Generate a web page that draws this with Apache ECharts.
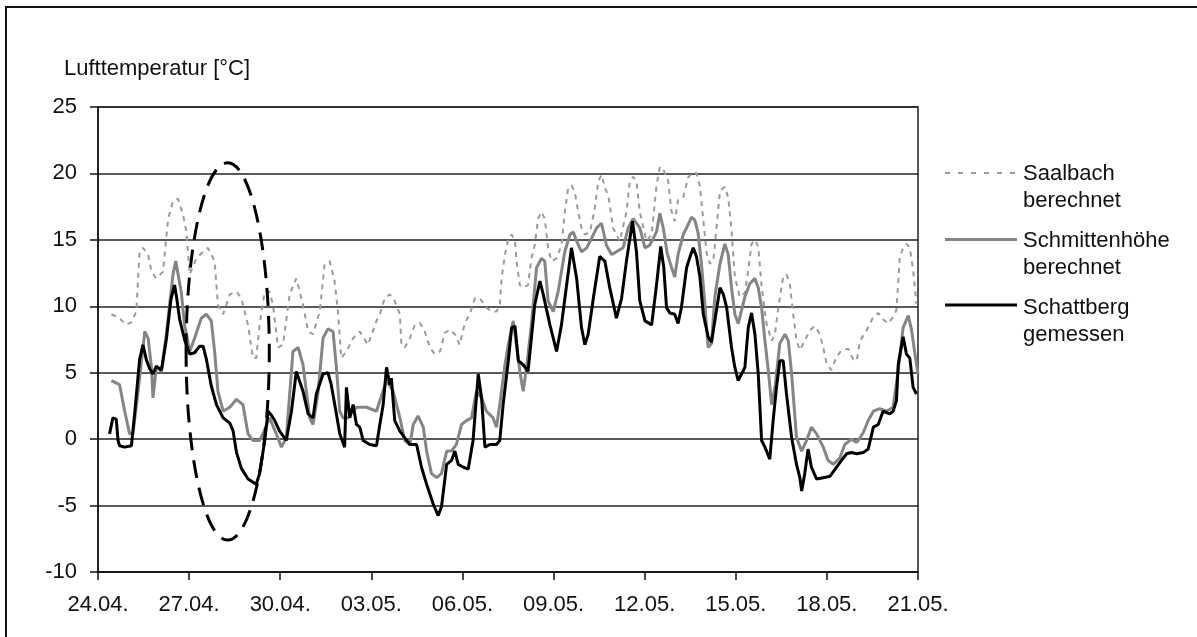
<!DOCTYPE html>
<html>
<head>
<meta charset="utf-8">
<script src="https://cdn.jsdelivr.net/npm/echarts@6/dist/echarts.min.js"></script>
<style>
  html, body { margin: 0; padding: 0; background: #fff; }
  #chart { width: 1197px; height: 637px; }
</style>
</head>
<body>
<div id="chart"></div>
<script>
// Tick labels of the date axis (one every 3 days, starting 24.04.)
const dateLabels = ['24.04.', '27.04.', '30.04.', '03.05.', '06.05.', '09.05.', '12.05.', '15.05.', '18.05.', '21.05.'];

// Air temperature [°C]; each point is [days since 24.04. 00:00, temperature]
const saalbach = [
  [0.44,9.4],[0.71,9.1],[0.93,8.6],[1.10,8.8],[1.26,9.6],[1.37,14.1],[1.48,14.4],[1.65,13.9],[1.76,12.6],[1.92,12.1],
  [2.14,12.6],[2.31,16.6],[2.47,17.9],[2.63,18.1],[2.80,16.9],[2.91,15.6],[3.02,12.4],[3.24,13.6],[3.46,14.1],[3.62,14.4],
  [3.84,13.4],[3.95,10.1],[4.12,9.4],[4.34,10.9],[4.56,11.1],[4.72,10.6],[4.94,8.6],[5.10,6.1],[5.21,6.1],[5.32,8.6],
  [5.49,11.1],[5.65,11.1],[5.76,10.1],[5.93,6.9],[6.09,7.1],[6.31,10.9],[6.53,12.1],[6.75,10.1],[6.92,8.1],[7.08,7.9],
  [7.30,9.6],[7.46,13.1],[7.63,13.4],[7.79,11.9],[7.90,9.6],[8.01,6.1],[8.18,6.6],[8.40,7.6],[8.62,8.1],[8.89,7.1],
  [9.17,8.9],[9.28,9.4],[9.44,10.6],[9.61,10.9],[9.77,10.4],[9.94,9.4],[9.99,7.1],[10.10,6.9],[10.27,7.6],[10.43,8.6],
  [10.60,8.75],[10.76,8.1],[10.93,6.9],[11.09,6.4],[11.26,6.6],[11.42,8.0],[11.59,8.25],[11.75,7.9],[11.91,7.1],[12.08,8.75],
  [12.24,9.4],[12.41,10.6],[12.57,10.6],[12.79,9.9],[12.96,9.6],[13.12,9.6],[13.23,10.1],[13.29,12.1],[13.40,13.9],[13.51,15.1],
  [13.62,15.4],[13.73,14.9],[13.78,13.4],[13.89,11.6],[14.00,11.4],[14.16,11.6],[14.27,13.6],[14.38,14.6],[14.49,16.6],[14.60,17.1],
  [14.71,16.6],[14.82,14.4],[14.93,13.4],[15.10,13.6],[15.26,14.6],[15.37,17.1],[15.48,18.9],[15.59,19.1],[15.70,18.6],[15.81,17.1],
  [15.92,15.9],[16.03,15.4],[16.20,15.6],[16.36,17.4],[16.47,19.4],[16.58,19.9],[16.69,18.9],[16.80,18.4],[16.96,15.9],[17.18,14.9],
  [17.40,17.1],[17.51,19.4],[17.62,19.75],[17.73,19.4],[17.84,17.1],[18.06,14.9],[18.23,15.4],[18.39,19.1],[18.50,20.5],[18.61,20.3],
  [18.77,19.5],[18.88,17.2],[18.99,16.4],[19.10,18.0],[19.27,18.2],[19.43,19.7],[19.60,20.1],[19.71,20.0],[19.82,19.0],[19.93,16.5],
  [20.04,14.0],[20.15,13.2],[20.26,13.4],[20.37,16.0],[20.48,18.7],[20.64,19.0],[20.75,18.2],[20.86,15.7],[20.97,12.2],[21.13,10.7],
  [21.30,11.0],[21.41,12.7],[21.52,14.7],[21.63,15.0],[21.74,14.5],[21.85,11.5],[22.01,8.7],[22.18,7.4],[22.29,7.9],[22.40,9.9],
  [22.56,12.2],[22.67,12.4],[22.78,11.7],[22.89,9.4],[23.00,7.4],[23.11,6.7],[23.27,7.4],[23.44,8.2],[23.60,8.5],[23.77,7.9],
  [23.88,6.9],[23.99,5.7],[24.15,5.2],[24.32,6.2],[24.48,6.7],[24.70,6.8],[24.87,6.0],[24.98,5.9],[25.09,7.4],[25.31,8.2],
  [25.53,9.2],[25.69,9.5],[25.85,9.0],[26.02,8.7],[26.18,9.2],[26.29,9.7],[26.40,13.7],[26.51,14.4],[26.62,14.7],[26.73,14.4],
  [26.84,12.7],[26.95,10.2]
];

const schmittenhoehe = [
  [0.44,4.4],[0.71,4.1],[0.88,2.1],[1.04,0.4],[1.15,0.4],[1.32,3.6],[1.54,8.1],[1.65,7.6],[1.76,5.4],[1.81,3.1],
  [1.92,5.4],[2.09,5.1],[2.25,7.9],[2.47,12.4],[2.56,13.4],[2.74,11.1],[2.85,8.6],[3.02,6.6],[3.18,7.6],[3.40,9.1],
  [3.57,9.4],[3.73,8.9],[3.84,6.6],[3.95,3.6],[4.12,2.1],[4.34,2.4],[4.56,3.0],[4.77,2.6],[4.94,0.4],[5.10,-0.1],
  [5.32,-0.1],[5.43,0.4],[5.65,1.6],[5.87,0.4],[6.04,-0.6],[6.20,0.1],[6.42,6.6],[6.59,6.9],[6.75,5.6],[6.97,1.6],
  [7.08,1.1],[7.24,3.4],[7.41,7.6],[7.57,8.3],[7.74,8.1],[7.85,5.4],[7.96,2.1],[8.07,1.6],[8.23,1.6],[8.51,2.4],
  [8.84,2.4],[9.17,2.1],[9.28,2.9],[9.50,4.4],[9.72,3.6],[9.94,1.6],[10.10,-0.1],[10.27,-0.4],[10.38,1.1],[10.54,1.75],
  [10.71,0.9],[10.82,-0.9],[10.98,-2.6],[11.15,-2.9],[11.31,-2.6],[11.48,-0.9],[11.64,-0.9],[11.80,-0.4],[11.97,1.1],[12.13,1.4],
  [12.30,1.6],[12.46,3.6],[12.63,3.1],[12.79,2.1],[13.01,1.6],[13.12,0.9],[13.23,2.6],[13.40,5.6],[13.51,7.1],[13.67,8.9],
  [13.78,7.1],[13.89,5.1],[14.00,3.6],[14.11,5.4],[14.27,8.6],[14.44,12.9],[14.60,13.6],[14.71,13.4],[14.82,10.4],[14.99,9.6],
  [15.15,11.1],[15.37,14.1],[15.54,15.4],[15.65,15.6],[15.76,14.9],[15.92,14.1],[16.09,14.4],[16.25,15.1],[16.42,15.9],[16.58,16.25],
  [16.74,14.6],[16.91,13.9],[17.07,14.1],[17.29,14.4],[17.46,15.9],[17.62,16.6],[17.84,15.9],[18.01,14.4],[18.17,14.6],[18.39,15.6],
  [18.50,17.0],[18.62,15.8],[18.74,14.0],[18.86,13.1],[18.99,12.2],[19.10,13.9],[19.27,15.4],[19.38,15.9],[19.54,16.7],[19.65,16.5],
  [19.76,15.5],[19.87,13.2],[19.98,10.2],[20.09,6.9],[20.20,7.2],[20.31,10.7],[20.48,13.2],[20.64,14.7],[20.75,13.9],[20.86,11.4],
  [20.97,9.4],[21.08,8.7],[21.19,9.7],[21.30,10.7],[21.46,11.7],[21.63,12.1],[21.74,11.4],[21.85,9.9],[21.96,7.4],[22.07,5.2],
  [22.18,2.6],[22.29,3.9],[22.45,7.2],[22.62,7.9],[22.73,7.4],[22.84,4.9],[23.00,0.1],[23.17,-0.9],[23.33,-0.1],[23.49,0.9],
  [23.66,0.4],[23.88,-0.6],[24.04,-1.6],[24.21,-1.9],[24.43,-1.4],[24.59,-0.4],[24.81,0.0],[24.98,-0.25],[25.09,0.1],[25.20,0.5],
  [25.36,1.4],[25.53,2.1],[25.74,2.3],[25.96,2.1],[26.18,2.4],[26.35,5.2],[26.51,8.4],[26.68,9.3],[26.79,8.2],[26.90,6.4],
  [27.00,4.9]
];

const schattberg = [
  [0.38,0.4],[0.49,1.6],[0.60,1.5],[0.66,-0.1],[0.71,-0.5],[0.88,-0.6],[1.10,-0.5],[1.21,2.0],[1.37,6.0],[1.48,7.1],
  [1.59,6.0],[1.70,5.3],[1.81,4.9],[1.92,5.5],[2.09,5.2],[2.25,7.5],[2.40,10.5],[2.52,11.6],[2.58,10.8],[2.69,9.0],
  [2.85,7.5],[3.02,6.4],[3.18,6.5],[3.35,7.0],[3.46,7.0],[3.57,6.0],[3.73,4.0],[3.90,2.6],[4.12,1.6],[4.34,1.2],
  [4.45,0.6],[4.56,-1.0],[4.72,-2.2],[4.94,-3.0],[5.21,-3.4],[5.32,-2.6],[5.49,-0.1],[5.60,2.1],[5.71,1.8],[5.82,1.4],
  [5.98,0.6],[6.20,-0.1],[6.37,2.1],[6.53,5.1],[6.75,3.6],[6.92,1.9],[7.08,1.6],[7.19,3.4],[7.41,4.9],[7.57,5.0],
  [7.68,4.1],[7.85,1.9],[7.96,0.4],[8.12,-0.6],[8.18,3.9],[8.29,1.6],[8.40,2.6],[8.51,1.1],[8.62,0.9],[8.73,-0.1],
  [8.95,-0.4],[9.17,-0.5],[9.28,1.1],[9.39,2.6],[9.50,5.4],[9.61,4.1],[9.66,4.6],[9.77,1.4],[9.94,0.6],[10.10,0.1],
  [10.27,-0.4],[10.49,-0.4],[10.65,-2.1],[10.82,-3.4],[11.04,-4.9],[11.20,-5.75],[11.31,-5.1],[11.48,-1.9],[11.64,-1.6],[11.75,-0.9],
  [11.86,-1.9],[12.02,-2.1],[12.19,-2.25],[12.35,-0.1],[12.52,4.9],[12.63,3.1],[12.74,-0.6],[12.90,-0.4],[13.12,-0.4],[13.23,-0.1],
  [13.34,2.6],[13.51,5.9],[13.62,8.4],[13.73,8.5],[13.84,5.9],[14.00,5.6],[14.16,5.1],[14.27,7.6],[14.38,10.1],[14.55,11.9],
  [14.66,10.9],[14.88,8.6],[15.10,6.6],[15.26,8.6],[15.43,11.6],[15.59,14.4],[15.76,12.1],[15.92,8.4],[16.03,7.1],[16.14,7.9],
  [16.31,10.6],[16.52,13.75],[16.69,13.4],[16.85,11.4],[17.07,9.1],[17.24,10.6],[17.40,13.4],[17.60,16.4],[17.73,14.1],[17.84,10.4],
  [18.01,8.9],[18.23,8.6],[18.39,11.6],[18.53,14.5],[18.63,12.9],[18.72,9.9],[18.83,9.5],[18.99,9.4],[19.10,8.7],[19.21,9.9],
  [19.38,12.9],[19.49,13.7],[19.60,14.4],[19.71,13.7],[19.82,12.2],[19.93,9.4],[20.09,7.7],[20.20,7.3],[20.31,8.9],[20.48,11.4],
  [20.59,10.9],[20.70,9.9],[20.86,6.9],[20.97,5.4],[21.08,4.4],[21.19,4.9],[21.30,5.4],[21.41,8.4],[21.52,9.5],[21.63,7.9],
  [21.74,4.9],[21.85,-0.1],[21.96,-0.6],[22.12,-1.5],[22.23,1.4],[22.34,3.9],[22.45,5.9],[22.56,5.9],[22.67,3.4],[22.84,0.1],
  [23.00,-1.9],[23.11,-2.9],[23.17,-3.9],[23.27,-2.6],[23.38,-0.75],[23.49,-2.1],[23.66,-3.0],[23.88,-2.9],[24.10,-2.8],[24.32,-2.1],
  [24.48,-1.6],[24.65,-1.1],[24.81,-1.0],[24.98,-1.1],[25.20,-1.0],[25.36,-0.75],[25.53,0.9],[25.69,1.1],[25.85,2.1],[26.07,1.9],
  [26.18,2.1],[26.29,2.9],[26.35,5.65],[26.51,7.7],[26.62,6.4],[26.73,6.1],[26.84,3.9],[26.95,3.4]
];

// Highlighted cold spell (dashed ellipse), in data units: centre day/temperature and half-extents
const highlightCenter = [4.27, 6.6];
const highlightHalf = [1.37, 14.2];

const FONT = '"Liberation Sans", Arial, sans-serif';
const TXT = '#111';

const chart = echarts.init(document.getElementById('chart'), null, { renderer: 'canvas' });

chart.setOption({
  animation: false,
  backgroundColor: '#fff',
  title: {
    text: 'Lufttemperatur [°C]',
    left: 64,
    top: 58,
    padding: 0,
    textStyle: { fontFamily: FONT, fontSize: 22, fontWeight: 'normal', color: TXT }
  },
  grid: {
    left: 98, right: 279, top: 107, bottom: 65,
    show: true, borderColor: '#222', borderWidth: 1.5, backgroundColor: 'transparent'
  },
  xAxis: {
    type: 'value',
    min: 0, max: 27, interval: 3,
    axisLine: { show: true, onZero: false, lineStyle: { color: '#111', width: 1.5 } },
    axisTick: { show: true, inside: false, length: 8, lineStyle: { color: '#111', width: 1.5 } },
    splitLine: { show: false },
    axisLabel: {
      margin: 22,
      fontFamily: FONT, fontSize: 22, color: TXT,
      formatter: v => dateLabels[Math.round(v / 3)]
    }
  },
  yAxis: {
    type: 'value',
    min: -10, max: 25, interval: 5,
    axisLine: { show: true, lineStyle: { color: '#111', width: 1.5 } },
    axisTick: { show: true, inside: false, length: 8, lineStyle: { color: '#111', width: 1.5 } },
    splitLine: { show: true, lineStyle: { color: '#222', width: 1.5 } },
    axisLabel: { margin: 21, fontFamily: FONT, fontSize: 22, color: TXT }
  },
  series: [
    {
      name: 'Saalbach berechnet', type: 'line', data: saalbach,
      showSymbol: false, smooth: false,
      lineStyle: { color: '#9a9a9a', width: 2, type: [5, 5] }
    },
    {
      name: 'Schmittenhöhe berechnet', type: 'line', data: schmittenhoehe,
      showSymbol: false, smooth: false,
      lineStyle: { color: '#858585', width: 3 }
    },
    {
      name: 'Schattberg gemessen', type: 'line', data: schattberg,
      showSymbol: false, smooth: false,
      lineStyle: { color: '#000', width: 3 }
    }
  ]
});

// Ellipse placed from data coordinates
const c = chart.convertToPixel({ gridIndex: 0 }, highlightCenter);
const corner = chart.convertToPixel({ gridIndex: 0 },
  [highlightCenter[0] + highlightHalf[0], highlightCenter[1] + highlightHalf[1]]);

const legendText = (y, text) => ({
  type: 'text', left: 1023, top: y,
  style: { text, font: '22px ' + FONT, fill: TXT, lineHeight: 27.5 }
});

chart.setOption({
  graphic: [
    // outer frame
    { type: 'rect', shape: { x: 6, y: 7, width: 1220, height: 660 },
      style: { fill: 'none', stroke: '#111', lineWidth: 2 }, silent: true },
    // highlighted period
    { type: 'ellipse', shape: { cx: c[0], cy: c[1], rx: corner[0] - c[0], ry: c[1] - corner[1] },
      style: { fill: 'none', stroke: '#000', lineWidth: 3, lineDash: [18, 10] }, z: 100 },
    // legend
    { type: 'line', shape: { x1: 945, y1: 173, x2: 1017, y2: 173 },
      style: { stroke: '#9a9a9a', lineWidth: 2, lineDash: [5, 8] } },
    { type: 'line', shape: { x1: 945, y1: 239.5, x2: 1017, y2: 239.5 },
      style: { stroke: '#858585', lineWidth: 3 } },
    { type: 'line', shape: { x1: 945, y1: 305, x2: 1017, y2: 305 },
      style: { stroke: '#000', lineWidth: 3 } },
    legendText(160, 'Saalbach\nberechnet'),
    legendText(227, 'Schmittenhöhe\nberechnet'),
    legendText(294, 'Schattberg\ngemessen')
  ]
});
</script>
</body>
</html>
